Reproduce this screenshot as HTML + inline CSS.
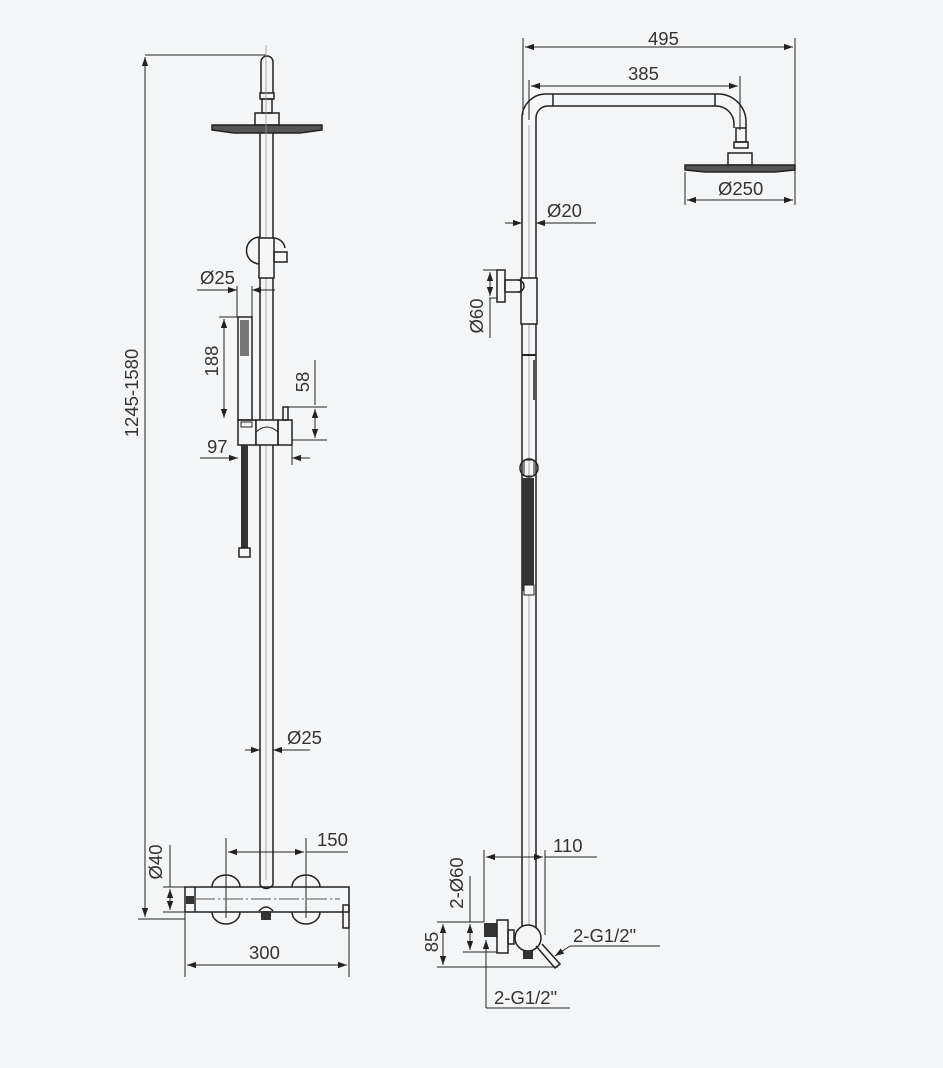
<!DOCTYPE html>
<html><head><meta charset="utf-8"><style>
html,body{margin:0;padding:0;background:#f4f5f7;}
svg{display:block;}
text{font-family:"Liberation Sans",sans-serif;font-size:18.5px;fill:#333;}
</style></head><body>
<svg width="943" height="1068" viewBox="0 0 943 1068" xmlns="http://www.w3.org/2000/svg">
<defs>
<marker id="a" viewBox="0 0 10 10" refX="10" refY="5" markerWidth="9" markerHeight="9" orient="auto-start-reverse" markerUnits="userSpaceOnUse"><path d="M0,1.5 L10,5 L0,8.5 z" fill="#222"/></marker>
</defs>
<rect width="943" height="1068" fill="#f4f5f7"/>
<g stroke="#222" stroke-width="1" fill="none">
<line x1="145" y1="55" x2="266" y2="55"/>
<line x1="138" y1="919" x2="185" y2="919"/>
<line x1="145" y1="57" x2="145" y2="917" marker-start="url(#a)" marker-end="url(#a)"/>
<path d="M261,93 L261,62 A6,6 0 0 1 273,62 L273,93" stroke-width="1.5"/>
<rect x="260" y="93" width="14" height="6" stroke-width="1.5"/>
<rect x="262" y="99" width="10" height="14" stroke-width="1.5"/>
<rect x="255" y="113" width="24" height="12" stroke-width="1.5"/>
<path d="M212,125 L322,125 L322,130 L300,133 L234,133 L212,130 Z" stroke-width="1.5" fill="#555"/>
<line x1="260" y1="133" x2="260" y2="885" stroke-width="1.5"/>
<line x1="273" y1="133" x2="273" y2="885" stroke-width="1.5"/>
<line x1="266" y1="45" x2="266" y2="880" stroke="#999" stroke-width="0.8"/>
<path d="M260,237 A13,13 0 0 0 260,264" stroke-width="1.5"/>
<path d="M274,238 A12,12 0 0 1 285,248" stroke-width="1.5"/>
<rect x="259" y="238" width="15" height="40" stroke-width="1.5" fill="#f4f5f7"/>
<rect x="274" y="252" width="13" height="10" stroke-width="1.5"/>
<line x1="197" y1="290" x2="237" y2="290" marker-end="url(#a)"/>
<line x1="275" y1="290" x2="252" y2="290" marker-end="url(#a)"/>
<line x1="237" y1="286" x2="237" y2="317"/>
<line x1="252" y1="286" x2="252" y2="317"/>
<rect x="238" y="317" width="14" height="103" stroke-width="1.5"/>
<rect x="240" y="320" width="9" height="36" fill="#777" stroke="none"/>
<line x1="219" y1="317" x2="238" y2="317"/>
<line x1="224" y1="319" x2="224" y2="418" marker-start="url(#a)" marker-end="url(#a)"/>
<rect x="238" y="420" width="18" height="25" stroke-width="1.5"/>
<rect x="241" y="422" width="11" height="5" stroke-width="1"/>
<path d="M256,420 L278,420 L278,445 L256,445 Z" stroke-width="1.5" fill="#f4f5f7"/>
<path d="M256,432 Q267,422 278,432" stroke-width="1"/>
<rect x="278" y="420" width="14" height="25" stroke-width="1.5"/>
<rect x="283" y="407" width="5" height="13" stroke-width="1.5"/>
<line x1="288" y1="407" x2="327" y2="407"/>
<line x1="292" y1="440" x2="327" y2="440"/>
<line x1="315" y1="360" x2="315" y2="405"/>
<line x1="315" y1="409" x2="315" y2="438" marker-start="url(#a)" marker-end="url(#a)"/>
<line x1="200" y1="458" x2="238" y2="458" marker-end="url(#a)"/>
<line x1="310" y1="458" x2="292" y2="458" marker-end="url(#a)"/>
<line x1="292" y1="445" x2="292" y2="465"/>
<rect x="241" y="445" width="7" height="103" fill="#333" stroke="none"/>
<rect x="239" y="548" width="11" height="9" stroke-width="1.5"/>
<line x1="245" y1="750" x2="260" y2="750" marker-end="url(#a)"/>
<line x1="310" y1="750" x2="273" y2="750" marker-end="url(#a)"/>
<line x1="226" y1="838" x2="226" y2="918"/>
<line x1="306" y1="838" x2="306" y2="918"/>
<line x1="228" y1="852" x2="304" y2="852" marker-start="url(#a)" marker-end="url(#a)"/>
<line x1="306" y1="852" x2="348" y2="852"/>
<path d="M212,887 A14,12 0 0 1 240,887" stroke-width="1.5"/>
<path d="M292,887 A14,12 0 0 1 320,887" stroke-width="1.5"/>
<path d="M212,912 A14,12 0 0 0 240,912" stroke-width="1.5"/>
<path d="M292,912 A14,12 0 0 0 320,912" stroke-width="1.5"/>
<rect x="185" y="887" width="164" height="25" stroke-width="1.5"/>
<line x1="195" y1="887" x2="195" y2="912" stroke-width="1.5"/>
<rect x="186" y="896" width="8" height="8" fill="#333" stroke="none"/>
<line x1="195" y1="899" x2="340" y2="899" stroke="#555" stroke-dasharray="20,3,2,3"/>
<path d="M260,885 Q266,892 273,885" stroke-width="1.5"/>
<path d="M259,911 Q266,903 273,911" stroke-width="1.5"/>
<rect x="261" y="911" width="10" height="9" fill="#333" stroke="none"/>
<path d="M343,905 L349,905 L349,928 L343,928 Z" stroke-width="1.5"/>
<line x1="163" y1="887" x2="185" y2="887"/>
<line x1="163" y1="912" x2="185" y2="912"/>
<line x1="170" y1="845" x2="170" y2="887"/>
<line x1="170" y1="889" x2="170" y2="910" marker-start="url(#a)" marker-end="url(#a)"/>
<line x1="185" y1="912" x2="185" y2="977"/>
<line x1="349" y1="928" x2="349" y2="977"/>
<line x1="187" y1="965" x2="347" y2="965" marker-start="url(#a)" marker-end="url(#a)"/>

<line x1="523" y1="38" x2="523" y2="115"/>
<line x1="795" y1="38" x2="795" y2="205"/>
<line x1="525" y1="47" x2="793" y2="47" marker-start="url(#a)" marker-end="url(#a)"/>
<line x1="529" y1="80" x2="529" y2="120"/>
<line x1="740" y1="76" x2="740" y2="130"/>
<line x1="531" y1="86" x2="738" y2="86" marker-start="url(#a)" marker-end="url(#a)"/>
<path d="M522,125 L522,118 A24,24 0 0 1 546,94 L718,94 A28,28 0 0 1 746,122 L746,128" stroke-width="1.5"/>
<path d="M536,125 L536,118 A12,12 0 0 1 548,106 L716,106 A18,18 0 0 1 734,124 L734,128" stroke-width="1.5"/>
<line x1="553" y1="94" x2="553" y2="106" stroke-width="1.5"/>
<line x1="715" y1="94" x2="715" y2="106" stroke-width="1.5"/>
<rect x="736" y="128" width="10" height="14" stroke-width="1.5"/>
<rect x="734" y="142" width="14" height="6" stroke-width="1.5"/>
<rect x="728" y="153" width="24" height="12" stroke-width="1.5"/>
<path d="M685,165 L795,165 L795,170 L775,172 L705,172 L685,170 Z" stroke-width="1.5" fill="#555"/>
<line x1="685" y1="172" x2="685" y2="205"/>
<line x1="687" y1="200" x2="793" y2="200" marker-start="url(#a)" marker-end="url(#a)"/>
<line x1="522" y1="125" x2="522" y2="930" stroke-width="1.5"/>
<line x1="536" y1="125" x2="536" y2="930" stroke-width="1.5"/>
<line x1="529" y1="125" x2="529" y2="930" stroke="#999" stroke-width="0.8"/>
<line x1="505" y1="223" x2="522" y2="223" marker-end="url(#a)"/>
<line x1="596" y1="223" x2="536" y2="223" marker-end="url(#a)"/>
<rect x="521" y="278" width="16" height="46" stroke-width="1.5" fill="#f4f5f7"/>
<rect x="505" y="280" width="16" height="12" stroke-width="1.5"/>
<path d="M518,280 A6,6 0 0 1 518,292" stroke-width="1.5"/>
<rect x="497" y="270" width="8" height="32" stroke-width="1.5"/>
<line x1="483" y1="270" x2="497" y2="270"/>
<line x1="489" y1="298" x2="497" y2="298"/>
<line x1="490" y1="272" x2="490" y2="296" marker-start="url(#a)" marker-end="url(#a)"/>
<line x1="490" y1="298" x2="490" y2="338"/>
<line x1="522" y1="355" x2="536" y2="355" stroke-width="2"/>
<rect x="533" y="360" width="3" height="40" fill="#555" stroke="none"/>
<circle cx="529" cy="468" r="9" stroke-width="1.5"/>
<rect x="524" y="460" width="10" height="16" stroke-width="1"/>
<rect x="522" y="478" width="12" height="113" fill="#333" stroke="none"/>
<rect x="524" y="585" width="10" height="10" stroke-width="1" fill="#f4f5f7"/>
<line x1="484" y1="850" x2="484" y2="922"/>
<line x1="545" y1="850" x2="545" y2="935"/>
<line x1="486" y1="857" x2="543" y2="857" marker-start="url(#a)" marker-end="url(#a)"/>
<line x1="545" y1="857" x2="597" y2="857"/>
<rect x="484" y="923" width="13" height="14" fill="#333" stroke="none"/>
<rect x="497" y="920" width="11" height="33" stroke-width="1.5"/>
<rect x="508" y="930" width="6" height="14" stroke-width="1.5"/>
<circle cx="528" cy="938" r="13" stroke-width="1.5" fill="#f4f5f7"/>
<rect x="523" y="951" width="10" height="8" fill="#333" stroke="none"/>
<path d="M536,946 L555,968 L560,964 L542,944" stroke-width="1.5"/>
<line x1="463" y1="922" x2="484" y2="922"/>
<line x1="463" y1="952" x2="497" y2="952"/>
<line x1="470" y1="876" x2="470" y2="922"/>
<line x1="470" y1="924" x2="470" y2="950" marker-start="url(#a)" marker-end="url(#a)"/>
<line x1="437" y1="922" x2="484" y2="922"/>
<line x1="437" y1="967" x2="558" y2="967"/>
<line x1="443" y1="924" x2="443" y2="965" marker-start="url(#a)" marker-end="url(#a)"/>
<polyline points="570,946 660,946"/>
<line x1="570" y1="946" x2="555" y2="956" marker-end="url(#a)"/>
<line x1="486" y1="1008" x2="486" y2="940" marker-end="url(#a)"/>
<line x1="486" y1="1008" x2="570" y2="1008"/>
</g>
<text x="200" y="284">Ø25</text>
<text x="207" y="453">97</text>
<text x="287" y="744">Ø25</text>
<text x="317" y="846">150</text>
<text x="249" y="959">300</text>
<text transform="translate(218,361) rotate(-90)" text-anchor="middle">188</text>
<text transform="translate(309,382) rotate(-90)" text-anchor="middle">58</text>
<text transform="translate(138,393) rotate(-90)" text-anchor="middle">1245-1580</text>
<text transform="translate(162,862) rotate(-90)" text-anchor="middle">Ø40</text>
<text x="648" y="45">495</text>
<text x="628" y="80">385</text>
<text x="718" y="195">Ø250</text>
<text x="547" y="217">Ø20</text>
<text x="553" y="852">110</text>
<text x="573" y="942">2-G1/2"</text>
<text x="494" y="1004">2-G1/2"</text>
<text transform="translate(483,316) rotate(-90)" text-anchor="middle">Ø60</text>
<text transform="translate(463,883) rotate(-90)" text-anchor="middle">2-Ø60</text>
<text transform="translate(438,942) rotate(-90)" text-anchor="middle">85</text>
</svg>
</body></html>
